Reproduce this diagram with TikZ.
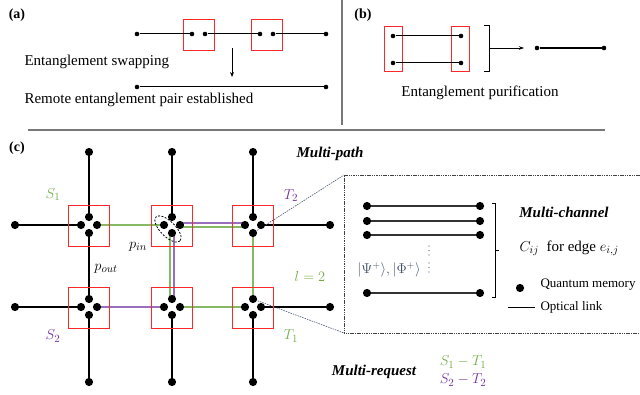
\documentclass[tikz,border=0pt]{standalone}
\usepackage{fontspec}
\setmainfont{Liberation Serif}
\usetikzlibrary{arrows.meta,calc}
\pgfdeclarelayer{bg}
\pgfsetlayers{bg,main}
\definecolor{pathgreen}{RGB}{112,173,71}
\definecolor{pathpurple}{RGB}{112,48,160}
\definecolor{boxred}{RGB}{250,40,40}
\definecolor{slate}{RGB}{68,84,106}
\definecolor{rulegray}{RGB}{120,120,120}

\begin{document}
\begin{tikzpicture}[x=1pt,y=-1pt,
  every node/.style={font=\fontsize{15}{18}\selectfont},
  sdot/.style={circle,fill=black,inner sep=0pt,minimum size=4.6pt},
  bdot/.style={circle,fill=black,inner sep=0pt,minimum size=8.2pt},
  redbox/.style={draw=boxred,line width=1.4pt},
  thinline/.style={line width=1pt},
  bline/.style={line width=1.6pt},
  gline/.style={line width=1.3pt,draw=pathgreen!85!white},
  pline/.style={line width=1.3pt,draw=pathpurple!70!white},
  leader/.style={line width=0.6pt,draw=slate,dash pattern=on 1.5pt off 1pt},
  insetline/.style={line width=0.6pt,draw=black!75,dash pattern=on 1.5pt off 0.8pt},
  panel/.style={font=\bfseries\fontsize{14}{16}\selectfont},
  heading/.style={font=\bfseries\itshape\fontsize{15}{18}\selectfont},
  small/.style={font=\fontsize{13}{15}\selectfont},
  tip/.style={-{Stealth[length=5pt,width=4pt]}}
]
\useasboundingbox (0,0) rectangle (640,395);

% panel separators
\draw[rulegray,line width=1.2pt] (342,0) -- (342,125);
\draw[rulegray,line width=1.4pt] (28,130) -- (605,130);

% ---------------- (a) entanglement swapping ----------------
\node[panel] (labA) at (17,15) {(a)};
\draw[redbox] (183.5,19.5) rectangle (214.5,50.5);
\draw[redbox] (251.5,19.5) rectangle (282.5,50.5);
\foreach \i/\x in {1/137,2/192,3/205,4/260,5/273,6/326}
  \node[sdot] (a\i) at (\x,34) {};
\draw[thinline] (a1) -- (a2);
\draw[thinline] (a3) -- (a4);
\draw[thinline] (a5) -- (a6);
\coordinate (arrS) at (232,48);
\coordinate (arrE) at (232,77);
\draw[thinline,tip] (arrS) -- (arrE);
\node[anchor=west] (txtSwap) at (21,62) {Entanglement swapping};
\node[sdot] (a7) at (137,87) {};
\node[sdot] (a8) at (326,87) {};
\draw[thinline] (a7) -- (a8);
\node[anchor=west] (txtRemote) at (21,100) {Remote entanglement pair established};

% ---------------- (b) entanglement purification ----------------
\node[panel] (labB) at (363,15) {(b)};
\draw[redbox] (384.5,26.5) rectangle (402.5,71.5);
\draw[redbox] (451.5,26.5) rectangle (469.5,71.5);
\node[sdot] (b1) at (393,36) {};
\node[sdot] (b2) at (393,63) {};
\node[sdot] (b3) at (461,36) {};
\node[sdot] (b4) at (461,63) {};
\draw[thinline] (b1) -- (b3);
\draw[thinline] (b2) -- (b4);
\draw[line width=0.8pt] (484,25) -- (489,25) -- (489,71) -- (484,71);
\coordinate (brk) at (489,48);
\coordinate (brkE) at (524,48);
\draw[line width=0.8pt,-{Stealth[length=5pt,width=3.5pt]}] (brk) -- (brkE);
\node[sdot] (b5) at (537,48) {};
\node[sdot] (b6) at (604,48) {};
\draw[line width=1.6pt] (b5) -- (b6);
\node (txtPur) at (480,93) {Entanglement purification};

% ---------------- (c) network ----------------
\node[panel] (labC) at (17,148) {(c)};
\foreach \r/\y in {1/225,2/307}
  \foreach \c/\x in {1/89,2/172,3/253} {
    \draw[redbox] (\x-20.5,\y-19.5) rectangle (\x+20.5,\y+21.5);
    \node[bdot] (n\r\c-t) at (\x,\y-8) {};
    \node[bdot] (n\r\c-b) at (\x,\y+8) {};
    \node[bdot] (n\r\c-l) at (\x-8,\y) {};
    \node[bdot] (n\r\c-r) at (\x+8,\y) {};
  }
\foreach \c/\x in {1/89,2/172,3/253} {
  \node[bdot] (et\c) at (\x,152) {};
  \node[bdot] (eb\c) at (\x,382) {};
}
\node[bdot] (el1) at (15,225) {};
\node[bdot] (el2) at (15,307) {};
\node[bdot] (er1) at (330,225) {};
\node[bdot] (er2) at (330,307) {};

% inset frame corners
\coordinate (insetTL) at (344,175);
\coordinate (insetBL) at (344,333);

\begin{pgfonlayer}{bg}
  \foreach \c in {1,2,3} {
    \draw[bline] (et\c.center) -- (n1\c-t.center);
    \draw[bline] (n2\c-b.center) -- (eb\c.center);
  }
  \foreach \r in {1,2} {
    \draw[bline] (el\r.center) -- (n\r1-l.center);
    \draw[bline] (n\r3-r.center) -- (er\r.center);
  }
  \draw[bline] (n11-b.center) -- (n21-t.center);
  % request S1-T1 (green) and S2-T2 (purple)
  \draw[gline] (n11-r.center) -- (n12-l.center);
  \draw[pline] ([yshift=2pt]n12-r.center) -- ([yshift=2pt]n13-l.center);
  \draw[gline] ([yshift=-2pt]n12-r.center) -- ([yshift=-2pt]n13-l.center);
  \draw[gline] ([xshift=-2pt]n12-b.center) -- ([xshift=-2pt]n22-t.center);
  \draw[pline] ([xshift=2pt]n12-b.center) -- ([xshift=2pt]n22-t.center);
  \draw[gline] (n13-b.center) -- (n23-t.center);
  \draw[pline] (n21-r.center) -- (n22-l.center);
  \draw[gline] (n22-r.center) -- (n23-l.center);
  % zoom leaders
  \draw[leader] (n13-b.center) -- (insetTL);
  \draw[leader] (n23-t.center) -- (insetBL);
\end{pgfonlayer}

% selected memories
\draw[line width=0.8pt,dash pattern=on 2pt off 1.5pt,rotate around={-45:(168,229)}]
  (168,229) ellipse [x radius=17, y radius=7.5];

\node[text=pathgreen] (lS1) at (53,195) {$S_1$};
\node[text=pathpurple] (lT2) at (291,196) {$T_2$};
\node[text=pathpurple] (lS2) at (53,336) {$S_2$};
\node[text=pathgreen] (lT1) at (291,336) {$T_1$};
\node[text=pathgreen] (lL) at (310,277) {$l=2$};
\node (lpin) at (138,247) {$p_{in}$};
\node (lpout) at (106,269) {$p_{out}$};
\node[heading] (hPath) at (330,154) {Multi-path};

% ---------------- inset: multi-channel edge ----------------
\draw[insetline] (insetTL) -- (646,175) -- (646,333) -- (insetBL) -- cycle;
\foreach \i/\y in {1/206,2/221,3/235,4/293} {
  \node[bdot] (cl\i) at (367,\y) {};
  \node[bdot] (cr\i) at (480,\y) {};
  \draw[line width=1.3pt,draw=black!80] (cl\i) -- (cr\i);
}
\foreach \y in {246,250.5,255,263,267.5,272}
  \fill[slate] (429,\y) circle (0.7);
\node[text=slate,font=\fontsize{14}{16}\selectfont] (lstates) at (389,270) {$|\Psi^{+}\rangle,|\Phi^{+}\rangle$};
\draw[line width=0.8pt] (492,203) -- (495,203) -- (495,297) -- (492,297);
\draw[line width=0.8pt] (495,250) -- (498.5,250);
\node[heading] (hChan) at (564,212) {Multi-channel};
\node[anchor=west] (lCij) at (516,248) {$C_{ij}$\ \ for edge $e_{i,j}$};
\node[bdot] (qm) at (520,288) {};
\node[anchor=west,small] (lqm) at (537,285) {Quantum memory};
\coordinate (olA) at (508,308);
\coordinate (olB) at (535,308);
\draw[line width=1pt] (olA) -- (olB);
\node[anchor=west,small] (lol) at (537,307) {Optical link};

% ---------------- requests ----------------
\node[heading] (hReq) at (374,372) {Multi-request};
\node[text=pathgreen] (r1) at (463,362) {$S_1-T_1$};
\node[text=pathpurple] (r2) at (463,380) {$S_2-T_2$};
\end{tikzpicture}
\end{document}
